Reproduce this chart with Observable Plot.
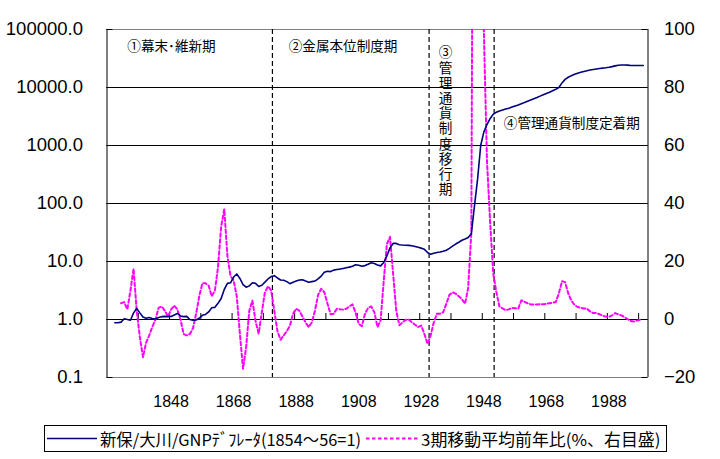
<!DOCTYPE html>
<html>
<head>
<meta charset="utf-8">
<script src="https://cdn.jsdelivr.net/npm/d3@7"></script>
<script src="https://cdn.jsdelivr.net/npm/@observablehq/plot@0.6"></script>
<style>
  body { margin: 0; background: #fff; }
  #wrap { position: relative; width: 720px; height: 459px; overflow: hidden; background: #fff; }
  #legend { position: absolute; left: 44px; top: 425px; width: 623px; height: 27px; box-sizing: border-box;
            border: 1px solid #000; font-family: "Noto Sans CJK JP", sans-serif; font-size: 16.5px; color: #000; }
  #legend .t { position: absolute; top: 50%; white-space: nowrap; transform-origin: left center; line-height: 1; }
  #legend svg { position: absolute; top: 0; }
</style>
</head>
<body>
<div id="wrap"><div id="chart"></div><div id="legend"></div></div>
<script>
// ---------------- data ----------------
// GNP deflator (Shinpo / Ohkawa), 1854-56 = 1, left log axis
const deflYears = d3.range(1830, 2000);
const deflValues = [
  0.88, 0.88, 0.9, 1.03, 1.0, 0.97, 1.3, 1.55, 1.3, 1.1,            // 1830-1839
  1.05, 1.08, 1.04, 1.02, 1.08, 1.12, 1.13, 1.12, 1.13, 1.2,         // 1840-1849
  1.27, 1.15, 1.12, 1.13, 1.0, 0.97, 0.98, 1.05, 1.18, 1.22,         // 1850-1859
  1.35, 1.59, 1.62, 1.9, 2.3, 3.3, 4.2, 4.3, 5.4, 6.1,               // 1860-1869
  5.1, 4.0, 3.6, 3.8, 4.3, 4.2, 3.7, 3.9, 4.4, 5.0,                  // 1870-1879
  5.5, 5.7, 5.2, 4.8, 4.75, 4.5, 4.15, 4.4, 4.6, 4.8,                // 1880-1889
  4.85, 4.6, 4.4, 4.5, 4.6, 5.0, 5.6, 6.5, 6.8, 6.7,                 // 1890-1899
  7.1, 7.3, 7.4, 7.6, 7.8, 8.0, 8.3, 8.8, 8.6, 8.3,                  // 1900-1909
  8.5, 9.0, 9.5, 9.2, 8.7, 8.4, 9.6, 12.5, 17.2, 20.5,               // 1910-1919
  20.5, 19.5, 19.2, 19.1, 19.0, 18.7, 18.2, 17.6, 17.0, 16.2,        // 1920-1929
  14.3, 13.3, 13.9, 14.3, 14.6, 15.0, 15.6, 16.8, 18.4, 20.0,        // 1930-1939
  21.5, 23.2, 24.5, 26.0, 30, 90, 260, 1000, 1700, 2300,             // 1940-1949
  2900, 3450, 3750, 3950, 4100, 4250, 4400, 4600, 4800, 5000,        // 1950-1959
  5250, 5500, 5800, 6100, 6400, 6700, 7100, 7500, 7900, 8300,        // 1960-1969
  8800, 9300, 10000, 12000, 13800, 15000, 16000, 16900, 17600, 18300,// 1970-1979
  18900, 19500, 20000, 20500, 20900, 21300, 21600, 21900, 22300, 22900, // 1980-1989
  23600, 24200, 24500, 24500, 24300, 24000, 23900, 24000, 24000, 23900  // 1990-1999
];

// 3-period moving average of year-on-year change (%), right axis
const growthYears = d3.range(1832, 1999);
const growthValues = [
  5.6, 6.0, 3.5, 10, 17.5, 3, -6, -13,                               // 1832-1839
  -8, -5.5, -2.5, 0, 4, 4.5, 3, 1, 3.5, 4.8,                         // 1840-1849
  3.5, 0, -5, -5.5, -5, -3, 2, 8, 12.5, 12.5,                        // 1850-1859
  11.7, 8, 10, 18, 32, 38, 22, 15, 13.4, 8,                          // 1860-1869
  -5, -17, -9.5, 3, 6.5, -0.5, -4.9, 2.5, 9.4, 11.5,                 // 1870-1879
  10, 3, -4, -7, -5.5, -4, -2.1, 2, 3.7, 3.1,                        // 1880-1889
  1, -1, -2.6, -1, 3, 8.5, 10.6, 9.4, 5.5, 1.8,                      // 1890-1899
  2, 3.7, 3.5, 3.4, 3.7, 4.5, 5.2, 2.3, -1.5, -2.3,                  // 1900-1909
  2, 4, 4.5, 2.5, -2.6, -0.3, 13.4, 26, 28.5, 15.7,                  // 1910-1919
  3, -2, -1, -0.1, 0, -1, -1.8, -2.6, -2.1, -5,                      // 1920-1929
  -8.4, -5.5, -1, 2, 2, 2.5, 5.4, 8.5, 9.4, 8.9,                     // 1930-1939
  8, 7, 5.4, 11, 30, 300, 350, 250, 100, 55,                         // 1940-1949
  34, 16, 9.5, 4.5, 3.8, 3.2, 3.5, 4, 3.9, 3.7,                      // 1950-1959
  6.6, 6.1, 5.6, 5.2, 5.2, 5.2, 5.3, 5.3, 5.4, 5.6,                  // 1960-1969
  5.8, 6, 9, 13.2, 12.9, 9, 6.5, 5, 4.3, 4,                          // 1970-1979
  3.8, 3.7, 2.8, 2.2, 2.2, 1.8, 1.3, 1.0, 0.9, 1.4,                  // 1980-1989
  2.2, 1.8, 1.4, 0.8, 0.1, -0.5, -0.7, -0.4, -0.1                    // 1990-1998
];

// axes
const leftTicks = [0.1, 1, 10, 100, 1000, 10000, 100000];
const rightTicks = [-20, 0, 20, 40, 60, 80, 100];
const xLabelYears = [1848, 1868, 1888, 1908, 1928, 1948, 1968, 1988];
const xTickYears = [1837.5, 1847.5, 1857.5, 1867.5, 1877.5, 1887.5, 1897.5, 1907.5,
                    1917.5, 1927.5, 1937.5, 1947.5, 1957.5, 1967.5, 1977.5, 1987.5, 1997.5];
const gridValues = [1, 10, 100, 1000, 10000];
const xDomain = [1827.5, 2000.5];
const yDomain = [0.1, 100000];

// period separators and labels
const periodBreaks = [1880.4, 1930.5, 1951.3];
const periodLabelText = ["①幕末･維新期", "②金属本位制度期", "④管理通貨制度定着期"];
const periodLabelYear = [1834.0, 1885.6, 1954.4];
const periodLabelLevel = [50000, 50000, 2370];
const verticalLabelText = "③管理通貨制度移行期";
const verticalLabelYear = 1935.8;
const verticalLabelLevel = 63000;

const legendLabels = ["新保/大川/GNPﾃﾞﾌﾚｰﾀ(1854～56=1)", "3期移動平均前年比(%、右目盛)"];

// ---------------- build ----------------
const deflData = deflYears.map((y, i) => ({year: y, value: deflValues[i]}));
const growthData = growthYears.map((y, i) => ({year: y, value: growthValues[i]}));
// right axis (linear, -20..100) maps onto the left log axis: 20 units per decade, 0 at 1
const toLeft = v => 10 ** (v / 20);
const fromLeft = d => Math.round(20 * Math.log10(d));
const periodLabels = periodLabelText.map((t, i) => ({text: t, year: periodLabelYear[i], level: periodLabelLevel[i]}));
const tickTop = 10 ** (6 / 58);
const pxYear = (xDomain[1] - xDomain[0]) / 541; // years per pixel
const fmtInt = d3.format("d");
const CJK = "'Noto Sans CJK JP', sans-serif";
const NUM = "'Liberation Sans', Arial, sans-serif";

const chart = Plot.plot({
  width: 720,
  height: 420,
  marginTop: 29,
  marginBottom: 43,
  marginLeft: 106.5,
  marginRight: 72.5,
  style: {fontFamily: NUM, background: "#fff", color: "#000"},
  x: {type: "linear", domain: xDomain, axis: null},
  y: {type: "log", domain: yDomain, axis: null},
  marks: [
    Plot.ruleY(yDomain, {stroke: "#808080", strokeWidth: 1}),
    Plot.ruleY(gridValues, {stroke: "#000", strokeWidth: 1}),
    Plot.ruleX(xDomain, {stroke: "#000", strokeWidth: 1}),
    Plot.ruleY(leftTicks, {x1: xDomain[0], x2: xDomain[0] + 6 * pxYear, stroke: "#000"}),
    Plot.ruleY(rightTicks.map(toLeft), {x1: xDomain[1] - 6 * pxYear, x2: xDomain[1], stroke: "#000"}),
    Plot.ruleX(xTickYears, {x: d => d, y1: 1, y2: tickTop, stroke: "#000", strokeWidth: 1}),
    Plot.ruleX(periodBreaks, {stroke: "#000", strokeWidth: 1.2, strokeDasharray: "5,3"}),
    Plot.line(growthData, {x: "year", y: d => toLeft(d.value), stroke: "#ff00ff", strokeWidth: 2,
      strokeDasharray: "3.5,2.5", clip: true}),
    Plot.line(deflData, {x: "year", y: "value", stroke: "#000080", strokeWidth: 1.6, clip: true}),
    Plot.text(periodLabels, {x: "year", y: "level", text: "text", textAnchor: "start",
      fontFamily: CJK, fontSize: 13.6, fill: "#000"}),
    Plot.text([verticalLabelText], {x: () => verticalLabelYear, y: () => verticalLabelLevel, text: d => d,
      textAnchor: "start", fontFamily: CJK, fontSize: 13.6, fill: "#000"}),
    Plot.axisY({anchor: "left", ticks: leftTicks, tickFormat: d3.format(".1f"), tickSize: 0, tickPadding: 24,
      fontSize: 18.5, fontFamily: NUM, label: null}),
    Plot.axisY({anchor: "right", ticks: rightTicks.map(toLeft), tickFormat: d => fmtInt(fromLeft(d)),
      tickSize: 0, tickPadding: 16, fontSize: 18.5, fontFamily: NUM, label: null}),
    Plot.axisX({anchor: "bottom", ticks: xLabelYears, tickFormat: d => String(d), tickSize: 0, tickPadding: 18,
      fontSize: 16, fontFamily: NUM, label: null})
  ]
});
document.getElementById("chart").appendChild(chart);

// vertical writing for the ③ period label (one text element, set top-to-bottom)
d3.select(chart).selectAll("text")
  .filter(function() { return this.textContent === verticalLabelText; })
  .attr("dy", null)
  .attr("writing-mode", "tb")
  .style("writing-mode", "vertical-rl")
  .style("text-orientation", "upright")
  .style("letter-spacing", "1.6px");

// ---------------- legend (HTML below the SVG) ----------------
const legend = document.getElementById("legend");
function sample(left, width, color, dash, sw) {
  const ns = "http://www.w3.org/2000/svg";
  const s = document.createElementNS(ns, "svg");
  s.setAttribute("width", width); s.setAttribute("height", 25);
  s.style.left = left + "px";
  const l = document.createElementNS(ns, "line");
  l.setAttribute("x1", 0); l.setAttribute("x2", width);
  l.setAttribute("y1", 12.5); l.setAttribute("y2", 12.5);
  l.setAttribute("stroke", color); l.setAttribute("stroke-width", sw);
  if (dash) l.setAttribute("stroke-dasharray", dash);
  s.appendChild(l);
  legend.appendChild(s);
}
function label(text, left, target) {
  const sp = document.createElement("span");
  sp.className = "t"; sp.textContent = text; sp.style.left = left + "px";
  legend.appendChild(sp);
  const w = sp.getBoundingClientRect().width;
  sp.style.transform = `translateY(-50%) scaleX(${target / w})`;
}
sample(2, 50, "#000080", null, 1.5);
label(legendLabels[0], 55, 261);
sample(321, 52, "#ff00ff", "3.5,2.5", 2);
label(legendLabels[1], 375.5, 239.5);
</script>
</body>
</html>
